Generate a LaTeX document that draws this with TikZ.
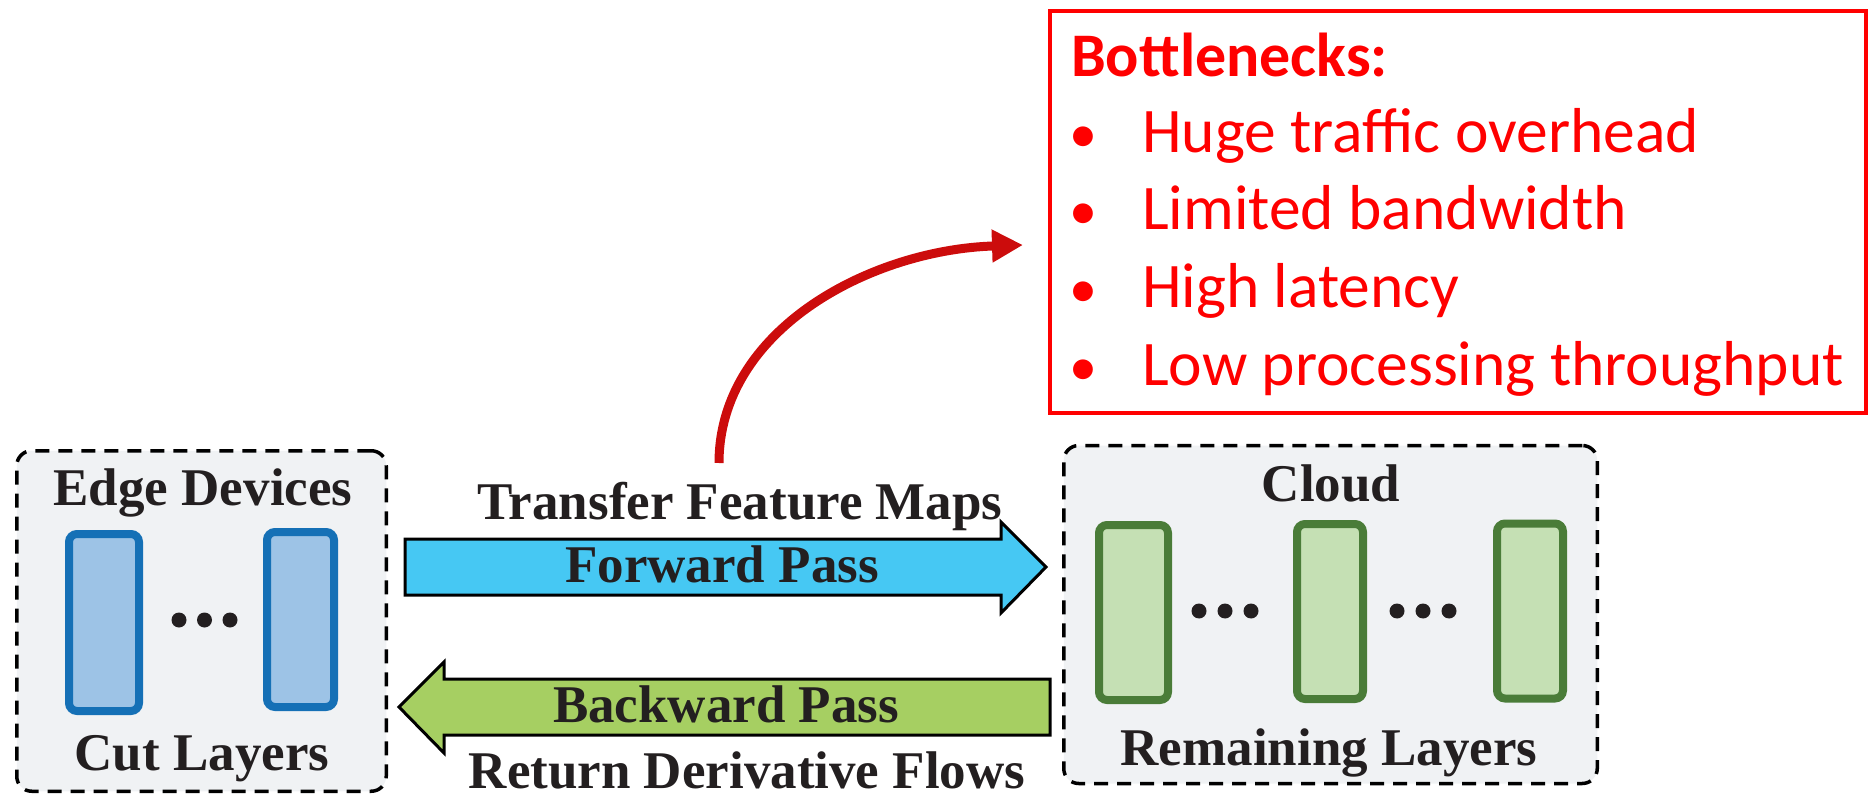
\documentclass[tikz,border=0pt]{standalone}
\usepackage{fontspec}
\setmainfont{Liberation Serif}
\newfontfamily\calibrifont{Carlito}
\usetikzlibrary{arrows.meta}
\definecolor{boxbg}{RGB}{240,242,244}
\definecolor{txtblack}{HTML}{231F20}
\definecolor{fwdcyan}{HTML}{46C8F3}
\definecolor{bwdgreen}{HTML}{A6CF62}
\definecolor{bluefill}{HTML}{9DC3E6}
\definecolor{blueedge}{HTML}{1570B6}
\definecolor{greenfill}{HTML}{C5E0B4}
\definecolor{greenedge}{HTML}{4A7C38}
\definecolor{arrowred}{HTML}{CC0C0C}
\definecolor{boxred}{HTML}{FF0000}
\begin{document}
\begin{tikzpicture}[x=1pt,y=-1pt,
  dbox/.style={draw=black, line width=3.5pt, dash pattern=on 14pt off 9pt, fill=boxbg, rounded corners=15pt, inner sep=0pt},
  lbl/.style={text=txtblack, font=\fontsize{53}{60}\selectfont\bfseries, inner sep=0pt, anchor=base},
  bluelayer/.style={draw=blueedge, fill=bluefill, line width=8pt, rounded corners=8pt, inner sep=0pt, minimum width=70pt, minimum height=177pt},
  greenlayer/.style={draw=greenedge, fill=greenfill, line width=8pt, rounded corners=8pt, inner sep=0pt, minimum width=69pt, minimum height=175pt},
  dot/.style={circle, fill=txtblack, inner sep=0pt, minimum size=15pt},
  fatarrow/.style={draw=black, line width=3pt, line join=miter},
  redtxt/.style={text=boxred, font=\calibrifont\fontsize{63.5}{70}\selectfont, inner sep=0pt, anchor=base west}
]
\useasboundingbox (0,0) rectangle (1871,799);

% left box
\node[dbox, minimum width=369.5pt, minimum height=340.5pt] (edge) at (201.5,621) {};
\node[lbl] (edget) at (203,505) {Edge Devices};
\node[lbl] (cutt) at (202,770) {Cut Layers};
\node[bluelayer] (b1) at (104,622.5) {};
\node[bluelayer, minimum width=67pt, minimum height=175pt] (b2) at (300.5,619.5) {};
\node[dot] (d1) at (179,620) {};
\node[dot] (d2) at (204.5,620) {};
\node[dot] (d3) at (230,620) {};

% right box
\node[dbox, minimum width=533.5pt, minimum height=338pt] (cloud) at (1330.5,614.5) {};
\node[lbl] (cloudt) at (1331,501) {Cloud};
\node[lbl] (remt) at (1329,765) {Remaining Layers};
\node[greenlayer] (g1) at (1133.5,612.5) {};
\node[greenlayer, minimum width=66pt] (g2) at (1330,611.5) {};
\node[greenlayer, minimum width=66pt] (g3) at (1530,611) {};
\node[dot] (e1) at (1199,611) {};
\node[dot] (e2) at (1225,611) {};
\node[dot] (e3) at (1251,611) {};
\node[dot] (f1) at (1397,611) {};
\node[dot] (f2) at (1423,611) {};
\node[dot] (f3) at (1449,611) {};

% forward arrow
\draw[fatarrow, fill=fwdcyan] (405,539) -- (1001,539) -- (1001,522) -- (1046,567) -- (1001,613) -- (1001,595) -- (405,595) -- cycle;
\node[lbl] (tfm) at (740,519) {Transfer Feature Maps};
\node[lbl] (fwd) at (722,582) {Forward Pass};

% backward arrow
\draw[fatarrow, fill=bwdgreen] (1050,679) -- (444,679) -- (444,662) -- (399,707) -- (444,753) -- (444,735) -- (1050,735) -- cycle;
\node[lbl] (bwd) at (726,722) {Backward Pass};
\node[lbl] (rdf) at (747,788) {Return Derivative Flows};

% bottleneck box
\node[draw=boxred, line width=4pt, inner sep=0pt, minimum width=816pt, minimum height=402pt] (bn) at (1458,212) {};
\node[redtxt, font=\calibrifont\fontsize{62}{70}\selectfont\bfseries] (bnt) at (1071,77) {Bottlenecks:};
\node[redtxt, font=\calibrifont\fontsize{56}{70}\selectfont] (u1) at (1069,153) {•};
\node[redtxt, font=\calibrifont\fontsize{56}{70}\selectfont] (u2) at (1069,230) {•};
\node[redtxt, font=\calibrifont\fontsize{56}{70}\selectfont] (u3) at (1069,308) {•};
\node[redtxt, font=\calibrifont\fontsize{56}{70}\selectfont] (u4) at (1069,385) {•};
\node[redtxt] (i1) at (1142,153) {Huge traffic overhead};
\node[redtxt] (i2) at (1142,230) {Limited bandwidth};
\node[redtxt] (i3) at (1142,308) {High latency};
\node[redtxt] (i4) at (1142,385) {Low processing throughput};

% red curved arrow
\coordinate (rstart) at (719,463);
\coordinate (rtip) at (1023,245);
\draw[arrowred, line width=9pt, -{Triangle[length=31pt, width=31pt]}] (rstart) .. controls (719,330) and (870,250) .. (rtip);
\end{tikzpicture}
\end{document}
